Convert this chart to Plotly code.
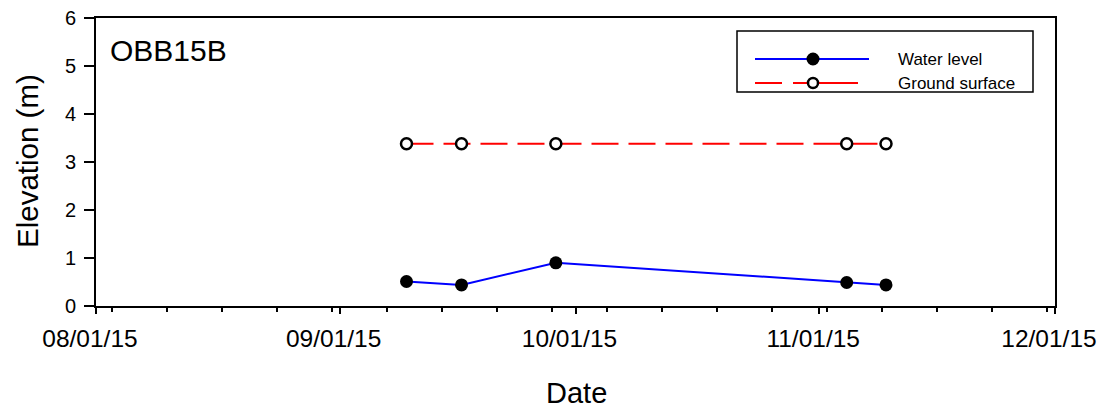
import plotly.graph_objects as go

dates = ["2015-09-09 12:00", "2015-09-16 12:00", "2015-09-28 12:00", "2015-11-04 12:00", "2015-11-09 12:00"]
water_level = [0.51, 0.44, 0.90, 0.49, 0.44]
ground_surface = [3.38, 3.38, 3.38, 3.38, 3.38]
tick_vals = ["2015-08-01", "2015-09-01", "2015-10-01", "2015-11-01", "2015-12-01"]
tick_text = ["08/01/15", "09/01/15", "10/01/15", "11/01/15", "12/01/15"]
well_name = "OBB15B"
series_names = ["Water level", "Ground surface"]

OFF = 8  # page body margin
W, H = 1105 - OFF, 408 - OFF
L, R, T, B = 96, 1055, 18, 306  # plot area in window pixels
PW, PH = R - L, B - T


def px(x):
    return (x - L) / PW


def py(y):
    return (B - y) / PH


FONT = "Liberation Sans, Arial, sans-serif"

fig = go.Figure()
fig.add_trace(go.Scatter(
    x=dates, y=ground_surface, mode="lines+markers", name=series_names[1],
    line=dict(color="#ff0000", width=2, dash="27px,10px"),
    marker=dict(symbol="circle", size=11, color="white", line=dict(color="black", width=2.5)),
    showlegend=False))
fig.add_trace(go.Scatter(
    x=dates, y=water_level, mode="lines+markers", name=series_names[0],
    line=dict(color="#0000ff", width=2),
    marker=dict(symbol="circle", size=13, color="black", line=dict(width=0)),
    showlegend=False))

shapes = []
annotations = []
# legend box
shapes.append(dict(type="rect", xref="paper", yref="paper", x0=px(737), x1=px(1033), y0=py(92), y1=py(31),
                   line=dict(color="black", width=1.5), fillcolor="white", layer="above"))
# water level sample
shapes.append(dict(type="line", xref="paper", yref="paper", x0=px(755), x1=px(869), y0=py(59), y1=py(59),
                   line=dict(color="#0000ff", width=2), layer="above"))
shapes.append(dict(type="circle", xref="paper", yref="paper", xsizemode="pixel", ysizemode="pixel",
                   xanchor=px(813), yanchor=py(59), x0=-6.5, x1=6.5, y0=-6.5, y1=6.5,
                   fillcolor="black", line=dict(width=0), layer="above"))
# ground surface sample
for a, b in [(755, 782), (793, 832), (830, 858)]:
    shapes.append(dict(type="line", xref="paper", yref="paper", x0=px(a), x1=px(b), y0=py(83), y1=py(83),
                       line=dict(color="#ff0000", width=2), layer="above"))
shapes.append(dict(type="circle", xref="paper", yref="paper", xsizemode="pixel", ysizemode="pixel",
                   xanchor=px(813), yanchor=py(83), x0=-5, x1=5, y0=-5, y1=5,
                   fillcolor="white", line=dict(color="black", width=2.5), layer="above"))
for name, yy in zip(series_names, [59, 83]):
    annotations.append(dict(text=name, xref="paper", yref="paper", x=px(896), y=py(yy), xanchor="left",
                            yanchor="middle", showarrow=False, font=dict(family=FONT, size=17, color="black")))

annotations.append(dict(text=well_name, xref="paper", yref="paper", x=px(108), y=py(50), xanchor="left",
                        yanchor="middle", showarrow=False, font=dict(family=FONT, size=30, color="black")))
annotations.append(dict(text="Elevation (m)", xref="paper", yref="paper", x=px(27), y=py(161), textangle=-90,
                        xanchor="center", yanchor="middle", showarrow=False,
                        font=dict(family=FONT, size=29.5, color="black")))
annotations.append(dict(text="Date", xref="paper", yref="paper", x=px(576), y=py(393), xanchor="center",
                        yanchor="middle", showarrow=False, font=dict(family=FONT, size=29, color="black")))

fig.update_layout(
    width=W, height=H,
    margin=dict(l=L - OFF, r=1105 - R, t=T - OFF, b=408 - B, autoexpand=False),
    paper_bgcolor="white", plot_bgcolor="white",
    shapes=shapes, annotations=annotations,
    showlegend=False,
    xaxis=dict(type="date", range=["2015-08-01", "2015-12-01"], tickmode="array",
               tickvals=tick_vals, ticktext=tick_text, automargin=False,
               showgrid=False, zeroline=False, showline=True, linecolor="black", linewidth=2, mirror=True,
               ticks="outside", ticklen=6, tickwidth=2, tickcolor="black",
               ticklabelstandoff=4, ticklabelshift=-6, ticklabeloverflow="allow",
               tickfont=dict(family=FONT, size=24.5, color="black"),
               minor=dict(ticks="outside", ticklen=4, tickwidth=2, tickcolor="black",
                          tick0="2015-08-03", dtick=7 * 24 * 3600 * 1000, showgrid=False)),
    yaxis=dict(range=[0, 6], tickmode="linear", tick0=0, dtick=1, automargin=False,
               showgrid=False, zeroline=False, showline=True, linecolor="black", linewidth=2, mirror=True,
               ticks="outside", ticklen=10, tickwidth=2, tickcolor="black",
               ticklabelstandoff=4, ticklabeloverflow="allow",
               tickfont=dict(family=FONT, size=20, color="black")),
)

fig.write_html("out.html")
